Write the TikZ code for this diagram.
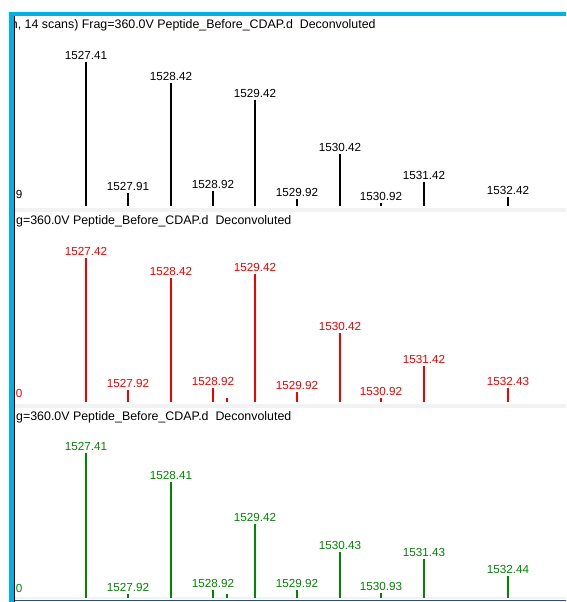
\documentclass[tikz,border=0pt]{standalone}
\usepackage{fontspec}
\setmainfont{Liberation Sans}
\definecolor{frameCyan}{RGB}{0,176,230}
\definecolor{peakRed}{RGB}{245,0,0}
\definecolor{peakGreen}{RGB}{0,135,0}
\definecolor{sepGrey}{RGB}{242,242,242}
\definecolor{baseBlue}{RGB}{45,75,145}
\tikzstyle{spectrum} = [x=1pt, y=-1pt]
\tikzstyle{peakLine} = [line width=1.2pt]
\tikzstyle{peakText} = [above, inner sep=2pt, font=\fontsize{11.7}{13}\selectfont]
\tikzstyle{titleText} = [anchor=west, inner sep=0pt, font=\fontsize{12.4}{14}\selectfont]
\tikzstyle{sepBand} = [fill=sepGrey]
\newcommand{\peakShift}[5]{\draw [peakLine, #5] (#1, #4 + 181) -- (#1, #4 + #2) node [peakText, #5] (pk-#4-#1) {#3};}
\newcommand{\tickShift}[3]{\draw [peakLine, #3] (#1, #2 + 181) -- + (0, -4);}
\newcommand{\panelTitle}[2]{\node [titleText] (title-#1) at (#2, #1) {g=360.0V Peptide\_Before\_CDAP.d\ \ Deconvoluted};}
\newcommand{\sepShift}[1]{\fill [sepBand] (15, #1 + 182.5) rectangle (566, #1 + 186.5);}

\begin{document}
\begin{tikzpicture}[spectrum]
    \useasboundingbox (0,0) rectangle (566,602);
    \fill [white] (0,0) rectangle (566,602);
    % frame
    \fill [frameCyan] (9,12) rectangle (566,16.5);
    \fill [frameCyan] (9,12) rectangle (13.5,602);
    \draw [line width=1.6pt] (14.5,16.5) -- (14.5,602);
    \sepShift{25}
    \sepShift{221}
    \fill [sepGrey] (15,597) rectangle (566,599);
    \draw [baseBlue, line width=1.6pt] (15,600.5) -- (566,600.5);
    % titles
    \begin{scope}
      \clip (15.5,16.5) rectangle (566,40);
      \node [titleText] (title-25) at (10.7, 25) {n, 14 scans) Frag=360.0V Peptide\_Before\_CDAP.d\ \ Deconvoluted};
    \end{scope}
    \panelTitle{221}{16}
    \panelTitle{417}{16}
    \node [peakText, anchor=west, inner sep=0pt] (axis-25) at (15.6, 194) {9};
    \node [peakText, anchor=west, inner sep=0pt, peakRed] (axis-221) at (15.6, 393) {0};
    \node [peakText, anchor=west, inner sep=0pt, peakGreen] (axis-417) at (15.6, 588) {0};
    % peaks
    \foreach \px/\py/\lab in {86/37/1527.41, 128/168/1527.91, 171/58/1528.42, 213/166/1528.92, 255/75/1529.42, 297/174/1529.92, 340/129/1530.42, 381/178/1530.92, 424/157/1531.42, 508/172/1532.42} {
      \peakShift{\px}{\py}{\lab}{25}{black}
    }
    \foreach \px/\py/\lab in {86/37/1527.42, 128/169/1527.92, 171/57/1528.42, 213/167/1528.92, 255/53/1529.42, 297/171/1529.92, 340/112/1530.42, 381/177/1530.92, 424/145/1531.42, 508/167/1532.43} {
      \peakShift{\px}{\py}{\lab}{221}{peakRed}
    }
    \tickShift{227}{221}{peakRed}
    \foreach \px/\py/\lab in {86/36/1527.41, 128/177/1527.92, 171/65/1528.41, 213/173/1528.92, 255/107/1529.42, 297/173/1529.92, 340/135/1530.43, 381/176/1530.93, 424/142/1531.43, 508/159/1532.44} {
      \peakShift{\px}{\py}{\lab}{417}{peakGreen}
    }
    \tickShift{227}{417}{peakGreen}
\end{tikzpicture}
\end{document}
